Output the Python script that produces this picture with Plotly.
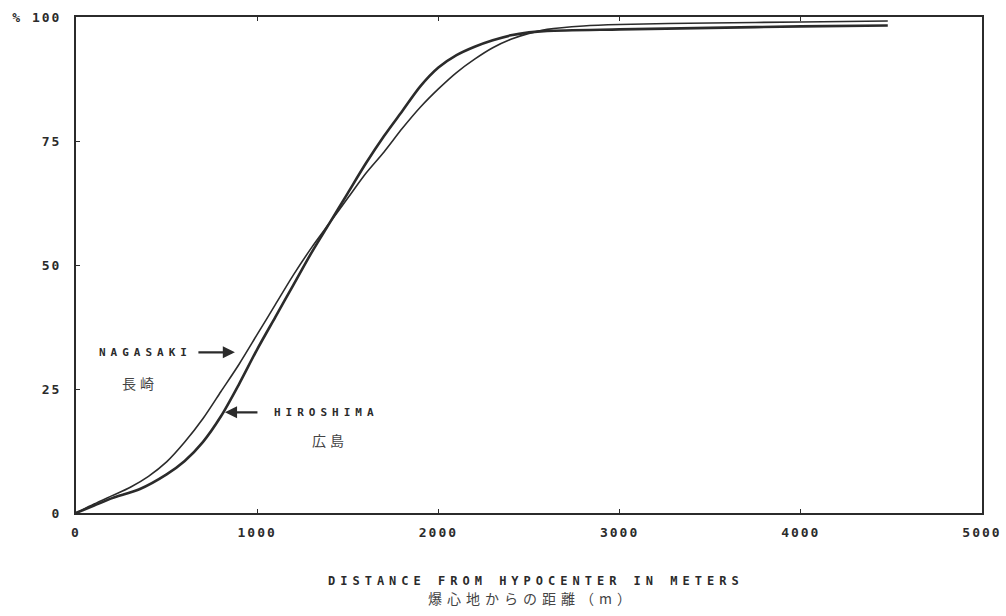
import plotly.graph_objects as go

# Distance from hypocenter (m) and cumulative percentage
hiro_x = [0, 100, 200, 350, 500, 600, 700, 800, 900, 1000, 1100, 1200, 1300, 1400, 1500, 1600,
          1700, 1800, 1900, 2000, 2100, 2200, 2300, 2400, 2500, 2600, 3000, 3500, 4000, 4480]
hiro_y = [0, 1.5, 3.0, 4.8, 7.8, 10.5, 14.3, 19.5, 26, 33, 39.5, 46, 52.5, 58.5, 64.5, 70.5,
          76, 81, 86, 89.8, 92.3, 94.0, 95.3, 96.3, 96.9, 97.2, 97.5, 97.8, 98.1, 98.3]

naga_x = [0, 100, 200, 300, 400, 500, 600, 700, 800, 900, 1000, 1100, 1200, 1300, 1400, 1500,
          1600, 1700, 1800, 1900, 2000, 2100, 2200, 2300, 2400, 2500, 2600, 2800, 3000, 3500, 4000, 4480]
naga_y = [0, 1.8, 3.5, 5.2, 7.4, 10.3, 14.3, 19, 24.5, 30, 36, 42, 48, 53.5, 58.5, 63.5,
          68.5, 72.8, 77.5, 81.8, 85.5, 88.8, 91.5, 93.8, 95.5, 96.7, 97.5, 98.2, 98.5, 98.8, 99.0, 99.2]

x_ticks = [0, 1000, 2000, 3000, 4000, 5000]
x_labels = ["0", "1000", "2000", "3000", "4000", "5000"]
y_ticks = [0, 25, 50, 75, 100]
y_labels = ["0", "25", "50", "75", "% 100"]

ink = "#2b2b2b"
tick_font = dict(family="DejaVu Sans Mono", size=13, color=ink, weight="bold")


def spaced(s, px):
    return '<span style="letter-spacing:%dpx">%s</span>' % (px, s)


fig = go.Figure()
fig.add_trace(go.Scatter(x=naga_x, y=naga_y, mode="lines", name="NAGASAKI",
                         line=dict(color=ink, width=1.6, shape="spline", smoothing=0.8)))
fig.add_trace(go.Scatter(x=hiro_x, y=hiro_y, mode="lines", name="HIROSHIMA",
                         line=dict(color=ink, width=2.6, shape="spline", smoothing=0.8)))

# Arrows
fig.add_annotation(x=877, y=32.4, ax=-38, ay=0, text="", showarrow=True,
                   arrowhead=2, arrowsize=1.1, arrowwidth=2.2, arrowcolor=ink)
fig.add_annotation(x=822, y=20.3, ax=34, ay=0, text="", showarrow=True,
                   arrowhead=2, arrowsize=1.1, arrowwidth=2.2, arrowcolor=ink)

lab_font = dict(family="DejaVu Sans Mono", size=11, color=ink, weight="bold")
cjk_font = dict(family="Noto Sans CJK JP", size=14, color="#444")
fig.add_annotation(x=381, y=32.4, text=spaced("NAGASAKI", 5), showarrow=False, font=lab_font)
fig.add_annotation(x=353, y=26.3, text=spaced("長崎", 4), showarrow=False, font=cjk_font)
fig.add_annotation(x=1380, y=20.3, text=spaced("HIROSHIMA", 5), showarrow=False, font=lab_font)
fig.add_annotation(x=1402, y=14.8, text=spaced("広島", 4), showarrow=False, font=cjk_font)

# Axis title (two lines)
fig.add_annotation(xref="paper", yref="paper", x=0.508, y=-0.138, yanchor="middle",
                   text=spaced("DISTANCE FROM HYPOCENTER IN METERS", 5),
                   showarrow=False, font=dict(family="DejaVu Sans Mono", size=12, color=ink, weight="bold"))
fig.add_annotation(xref="paper", yref="paper", x=0.503, y=-0.172, yanchor="middle",
                   text=spaced("爆心地からの距離（m）", 5), showarrow=False,
                   font=dict(family="Noto Sans CJK JP", size=14, color="#444"))

fig.update_xaxes(range=[0, 5000], tickvals=x_ticks, ticktext=[spaced(t, 2) for t in x_labels],
                 tickfont=tick_font, ticklabelstandoff=6, automargin=False,
                 showgrid=False, zeroline=False, showline=True, linecolor=ink, linewidth=2,
                 mirror="allticks", ticks="inside", ticklen=4, tickwidth=1.2, tickcolor=ink)
fig.update_yaxes(range=[0, 100], tickvals=y_ticks, ticktext=[spaced(t, 2) for t in y_labels],
                 tickfont=tick_font, automargin=False,
                 showgrid=False, zeroline=False, showline=True, linecolor=ink, linewidth=2,
                 mirror=True, ticks="inside", ticklen=4, tickwidth=1.2, tickcolor=ink,
                 ticklabelstandoff=10)

fig.update_layout(width=1006, height=616, plot_bgcolor="white", paper_bgcolor="white",
                  showlegend=False, margin=dict(l=76, r=24, t=17, b=103, autoexpand=False))

fig.write_html("out.html")
